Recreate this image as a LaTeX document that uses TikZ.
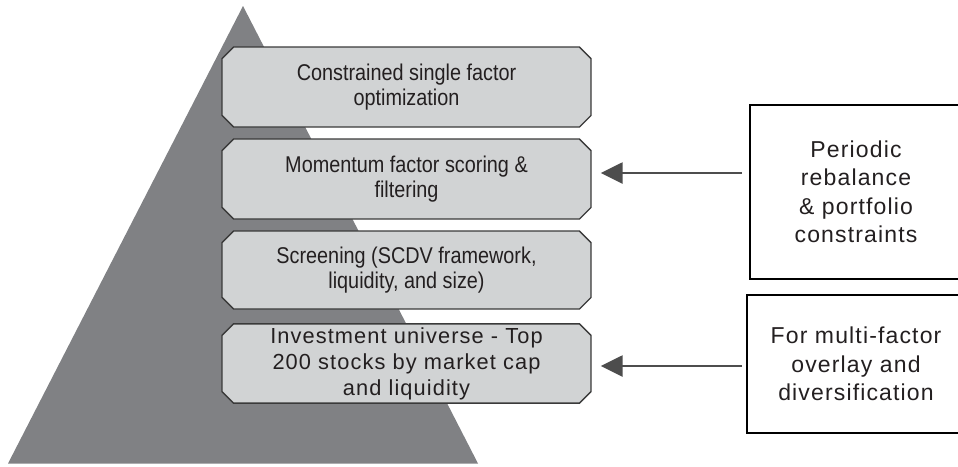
\documentclass[tikz,border=0pt]{standalone}
\usepackage{fontspec}
\setmainfont{Liberation Sans}
\newfontfamily\condfont{Liberation Sans}[FakeStretch=0.87]
\newfontfamily\widefont{Liberation Sans}[LetterSpace=5]
\usetikzlibrary{shapes.misc,arrows.meta}
\definecolor{pyrgray}{HTML}{808184}
\definecolor{boxgray}{HTML}{D1D3D4}
\definecolor{edgegray}{HTML}{3A3A3A}
\definecolor{arrgray}{HTML}{4D4D4D}
\definecolor{txt}{HTML}{231F20}
\tikzset{
  tier/.style={chamfered rectangle, chamfered rectangle corners={north west,south west,north east,south east},
    chamfered rectangle xsep=8pt, chamfered rectangle angle=45,
    draw=edgegray, line width=1.4pt, fill=boxgray, minimum width=369pt, inner sep=0pt,
    align=center, text=txt},
  condtxt/.style={font=\condfont\fontsize{22.8}{25.5}\selectfont},
  sidebox/.style={draw=black, line width=2pt, fill=white, align=center, text=txt,
    font=\widefont\fontsize{23}{28.5}\selectfont, inner sep=0pt},
  arr/.style={draw=arrgray, line width=2.6pt, -{Triangle[length=22pt,width=21pt]}}
}
\begin{document}
\begin{tikzpicture}[x=1pt,y=-1pt]
\useasboundingbox (0,0) rectangle (958,466);
\fill[pyrgray] (243,6) -- (478,463.5) -- (8,463.5) -- cycle;
\node[tier, condtxt, minimum height=80pt] (b1) at (406.5,87) {Constrained single factor\\optimization};
\node[tier, condtxt, minimum height=80pt] (b2) at (406.5,179) {Momentum factor scoring \&\\filtering};
\node[tier, condtxt, minimum height=78pt] (b3) at (406.5,270) {Screening (SCDV framework,\\liquidity, and size)};
\node[tier, minimum height=79pt, font=\widefont\fontsize{21.8}{26}\selectfont] (b4) at (406.5,363.5) {Investment universe - Top\\200 stocks by market cap\\and liquidity};
\node[sidebox, minimum width=212pt, minimum height=174pt] (pa) at (856,192) {Periodic\\rebalance\\\& portfolio\\constraints};
\node[sidebox, minimum width=218pt, minimum height=138pt] (pb) at (856,364) {For multi-factor\\overlay and\\diversification};
\draw[arr] ([xshift=-7pt]pa.west |- 0,173) -- ([xshift=9pt]b2.east |- 0,173);
\draw[arr] ([xshift=-4pt]pb.west |- 0,366) -- ([xshift=9pt]b4.east |- 0,366);
\end{tikzpicture}
\end{document}
